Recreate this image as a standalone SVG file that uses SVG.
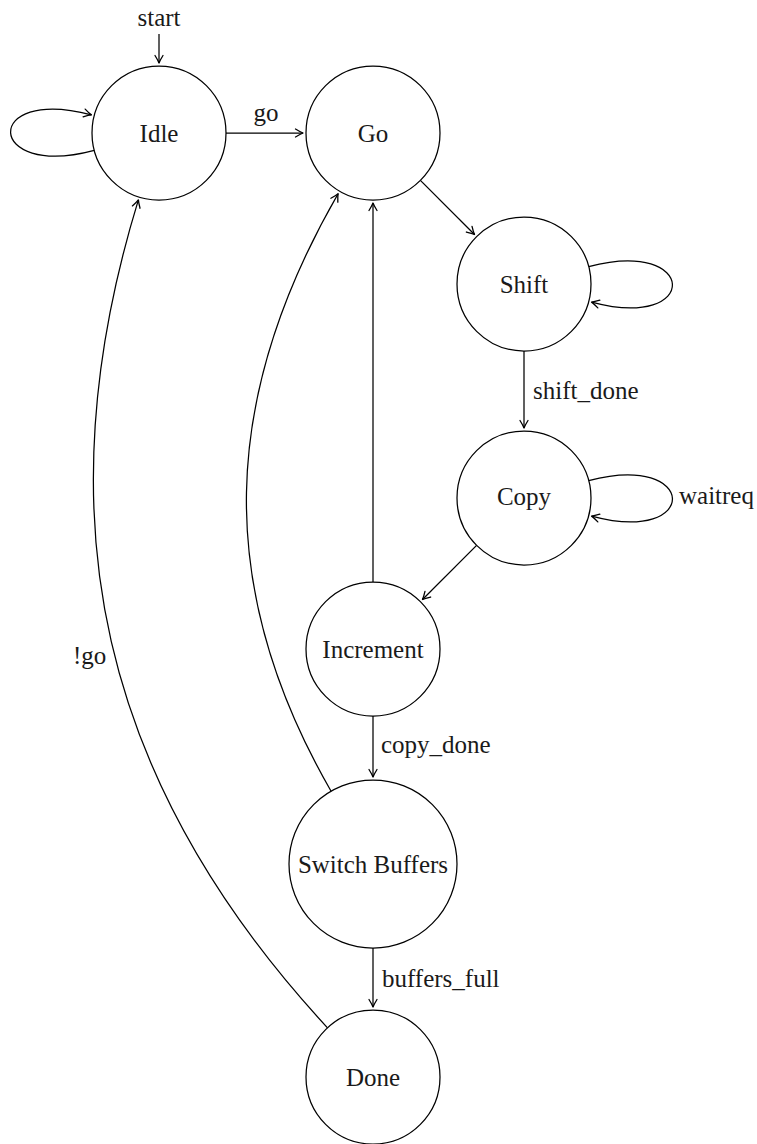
<svg xmlns="http://www.w3.org/2000/svg" width="757" height="1144" viewBox="0 0 757 1144">
  <style>
    .state circle { fill: #fff; stroke: #000; stroke-width: 1.25; }
    .state text { text-anchor: middle; }
    .edge { fill: none; stroke: #000; stroke-width: 1.25; marker-end: url(#tip); }
  </style>
  <defs>
    <marker id="tip" markerUnits="userSpaceOnUse" markerWidth="16" markerHeight="14" viewBox="-12 -7 16 14" refX="0" refY="0" orient="auto" overflow="visible">
      <path d="M -7.5,-4 Q -2.5,-0.9 0,0 Q -2.5,0.9 -7.5,4" fill="none" stroke="#000" stroke-width="1.3" stroke-linecap="round" stroke-linejoin="round"/>
    </marker>
  </defs>
  <rect width="757" height="1144" fill="#fff"/>

  <!-- transitions -->
  <g id="edges">
    <path class="edge" d="M 159,34 L 159,63"/>
    <path class="edge" d="M 94.3,150.3 C -15.4,179.7 -18.3,85.5 91.4,114.9"/>
    <path class="edge" d="M 226,133 L 303,133"/>
    <path class="edge" d="M 420.4,180.4 L 474.5,234.5"/>
    <path class="edge" d="M 588.7,266.7 C 698.4,237.3 701.3,331.5 591.6,302.1"/>
    <path class="edge" d="M 524,351 L 524,428"/>
    <path class="edge" d="M 588.7,480.7 C 698.4,451.3 701.3,545.5 591.6,516.1"/>
    <path class="edge" d="M 476.6,545.4 L 422.5,599.5"/>
    <path class="edge" d="M 373,582 L 373,203"/>
    <path class="edge" d="M 373,716 L 373,777"/>
    <path class="edge" d="M 331.1,791.2 C 213.6,587.1 220.6,397.8 338.1,193.7"/>
    <path class="edge" d="M 373,948 L 373,1007"/>
    <path class="edge" d="M 327.5,1027.8 C 101.1,783 40.4,518.7 138.4,199.9"/>
  </g>

  <!-- transition labels -->
  <g id="edge-labels" font-family="'Liberation Serif', 'DejaVu Serif', serif" font-size="25" fill="#1a1a1a">
    <text x="159" y="26" text-anchor="middle">start</text>
    <text x="266" y="121" text-anchor="middle">go</text>
    <text x="533" y="399">shift_done</text>
    <text x="679" y="504">waitreq</text>
    <text x="381" y="753">copy_done</text>
    <text x="382" y="987">buffers_full</text>
    <text x="73" y="664">!go</text>
  </g>

  <!-- states -->
  <g id="states" font-family="'Liberation Serif', 'DejaVu Serif', serif" font-size="25" fill="#1a1a1a">
    <g id="idle" class="state"><circle cx="159" cy="133" r="67"/><text x="159" y="141.5">Idle</text></g>
    <g id="go" class="state"><circle cx="373" cy="133" r="67"/><text x="373" y="141.5">Go</text></g>
    <g id="shift" class="state"><circle cx="524" cy="284" r="67"/><text x="524" y="292.5">Shift</text></g>
    <g id="copy" class="state"><circle cx="524" cy="498" r="67"/><text x="524" y="505">Copy</text></g>
    <g id="increment" class="state"><circle cx="373" cy="649" r="67"/><text x="373" y="657.5">Increment</text></g>
    <g id="switch-buffers" class="state"><circle cx="373" cy="864" r="84"/><text x="373" y="872.5">Switch Buffers</text></g>
    <g id="done" class="state"><circle cx="373" cy="1077" r="67"/><text x="373" y="1085.5">Done</text></g>
  </g>
</svg>
